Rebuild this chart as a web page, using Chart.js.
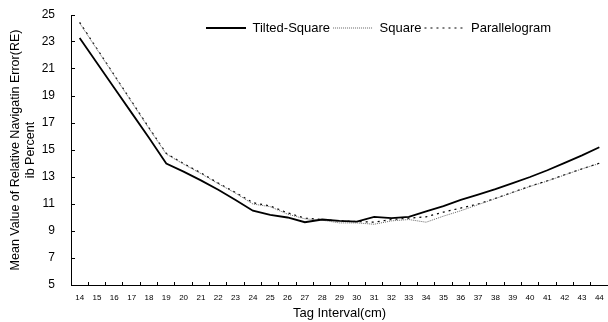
<!DOCTYPE html>
<html>
<head>
<meta charset="utf-8">
<script src="https://cdn.jsdelivr.net/npm/chart.js@4/dist/chart.umd.min.js"></script>
<style>
  html, body { margin: 0; padding: 0; background: #fff; }
  canvas { display: block; }
</style>
</head>
<body>
<canvas id="c" width="608" height="322"></canvas>
<script>
const categories = ['14','15','16','17','18','19','20','21','22','23','24','25','26','27','28','29','30','31','32','33','34','35','36','37','38','39','40','41','42','43','44'];
const tiltedSquare = [23.3, 21.45, 19.6, 17.75, 15.9, 14.0, 13.4, 12.75, 12.05, 11.3, 10.5, 10.2, 10.0, 9.65, 9.85, 9.75, 9.7, 10.05, 9.95, 10.05, 10.45, 10.85, 11.3, 11.7, 12.1, 12.55, 13.0, 13.5, 14.05, 14.6, 15.2];
const square = [24.4, 22.45, 20.5, 18.55, 16.6, 14.7, 13.95, 13.25, 12.5, 11.8, 11.0, 10.8, 10.25, 9.9, 9.8, 9.6, 9.6, 9.5, 9.75, 9.85, 9.65, 10.1, 10.5, 10.95, 11.4, 11.85, 12.3, 12.7, 13.15, 13.6, 14.0];
const parallelogram = [24.45, 22.5, 20.55, 18.6, 16.65, 14.75, 14.0, 13.3, 12.55, 11.85, 11.1, 10.85, 10.35, 9.95, 9.85, 9.75, 9.7, 9.65, 9.85, 9.95, 10.05, 10.4, 10.7, 11.0, 11.42, 11.87, 12.32, 12.72, 13.17, 13.6, 14.02];
const seriesNames = ['Tilted-Square', 'Square', 'Parallelogram'];
const yTitle = ['Mean Value of Relative Navigatin Error(RE)', 'ib Percent'];
const xTitle = 'Tag Interval(cm)';

const legendMover = {
  id: 'legendMover',
  afterInit(chart) {
    const lg = chart.legend;
    const fit = lg.fit;
    lg.fit = function () { fit.call(this); this.height = 0; };
    const draw = lg.draw;
    lg.draw = function () {
      const s = {top: this.top, bottom: this.bottom, left: this.left, right: this.right, height: this.height, width: this.width};
      this.left = 203; this.right = 608; this.width = 405;
      this.top = 18.5; this.height = 22; this.bottom = 40.5;
      draw.call(this);
      Object.assign(this, s);
    };
  }
};

const FONT = '"Liberation Sans", Arial, sans-serif';

new Chart(document.getElementById('c'), {
  type: 'line',
  data: {
    labels: categories,
    datasets: [
      { label: seriesNames[0], data: tiltedSquare, borderColor: '#000', backgroundColor: '#000', borderWidth: 1.8, pointRadius: 0, tension: 0 },
      { label: seriesNames[1], data: square, borderColor: '#666', backgroundColor: '#666', borderWidth: 1, borderDash: [1, 1], pointRadius: 0, tension: 0 },
      { label: seriesNames[2], data: parallelogram, borderColor: '#000', backgroundColor: '#000', borderWidth: 1.2, borderDash: [2, 4], pointRadius: 0, tension: 0 }
    ]
  },
  options: {
    responsive: false,
    animation: false,
    devicePixelRatio: 1,
    layout: { padding: { top: 15, right: 0, left: 0, bottom: 0 } },
    plugins: {
      tooltip: { enabled: false },
      legend: {
        display: true,
        position: 'top',
        align: 'start',
        labels: {
          usePointStyle: true,
          pointStyle: 'line',
          pointStyleWidth: 40,
          padding: 3,
          color: '#000',
          font: { family: FONT, size: 13 },
          generateLabels(chart) {
            const items = Chart.defaults.plugins.legend.labels.generateLabels(chart);
            items.forEach((it) => {
              const ds = chart.data.datasets[it.datasetIndex];
              it.lineDash = ds.borderDash || [];
              it.lineWidth = ds.borderWidth;
              it.strokeStyle = ds.borderColor;
              it.fillStyle = ds.borderColor;
              it.pointStyle = 'line';
            });
            return items;
          }
        }
      }
    },
    scales: {
      x: {
        type: 'category',
        offset: true,
        afterFit(scale) { scale.height = 37; scale.paddingRight = 0; scale.paddingLeft = 0; },
        grid: { offset: true, drawOnChartArea: false, drawTicks: true, tickLength: -3, color: '#000' },
        border: { display: true, color: '#000', width: 1 },
        ticks: { color: '#000', font: { family: FONT, size: 8 }, padding: 11, autoSkip: false, maxRotation: 0 },
        title: { display: true, text: xTitle, color: '#000', font: { family: FONT, size: 13 }, padding: { top: 0, bottom: 1 } }
      },
      y: {
        min: 5,
        max: 25,
        afterFit(scale) { scale.width = 71; scale.paddingTop = 0; scale.paddingBottom = 0; },
        grid: { drawOnChartArea: false, drawTicks: true, tickLength: -4, color: '#000' },
        border: { display: true, color: '#000', width: 1 },
        ticks: { stepSize: 2, color: '#000', font: { family: FONT, size: 12 }, padding: 20 },
        title: { display: true, text: yTitle, color: '#000', font: { family: FONT, size: 12.5 }, padding: { top: 8.5, bottom: 0 } }
      }
    }
  },
  plugins: [legendMover]
});
</script>
</body>
</html>
